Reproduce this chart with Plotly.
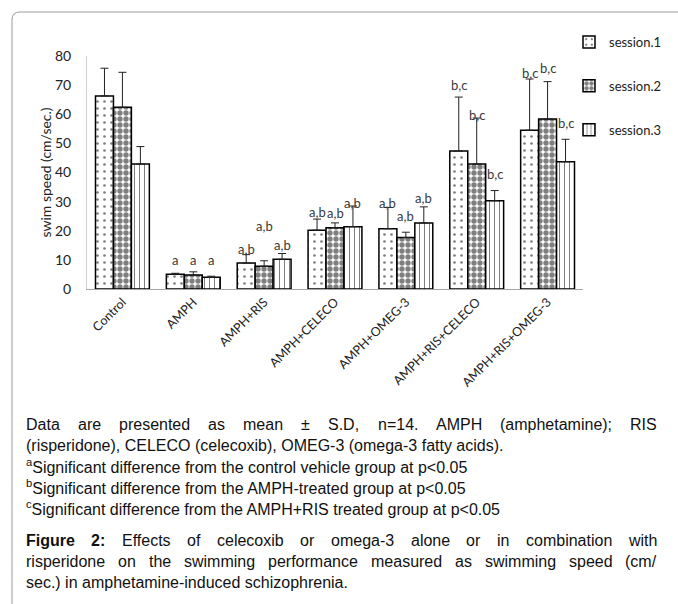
import plotly.graph_objects as go

# ---------------- data ----------------
categories = ["Control", "AMPH", "AMPH+RIS", "AMPH+CELECO", "AMPH+OMEG-3",
              "AMPH+RIS+CELECO", "AMPH+RIS+OMEG-3"]
session_names = ["session.1", "session.2", "session.3"]

session1_mean = [66.3, 5.1, 8.9, 20.2, 20.7, 47.4, 54.5]
session1_sd = [9.5, 0.3, 2.9, 3.8, 7.3, 18.5, 17.6]
session2_mean = [62.4, 4.8, 7.8, 21.0, 17.7, 42.9, 58.4]
session2_sd = [12.0, 1.1, 1.9, 1.7, 1.8, 15.8, 12.8]
session3_mean = [42.9, 4.0, 10.2, 21.4, 22.7, 30.3, 43.7]
session3_sd = [6.0, 0.4, 2.0, 7.1, 5.5, 3.5, 7.7]

session1_sig = ["", "a", "a,b", "a,b", "a,b", "b,c", "b,c"]
session2_sig = ["", "a", "a,b", "a,b", "a,b", "b,c", "b,c"]
session3_sig = ["", "a", "a,b", "a,b", "a,b", "b,c", "b,c"]

y_ticks = [0, 10, 20, 30, 40, 50, 60, 70, 80]
y_title = "swim speed (cm/sec.)"

note_lines = [
    "Data are presented as mean ± S.D, n=14. AMPH (amphetamine); RIS",
    "(risperidone), CELECO (celecoxib), OMEG-3 (omega-3 fatty acids).",
    "<sup>a</sup>Significant difference from the control vehicle group at p<0.05",
    "<sup>b</sup>Significant difference from the AMPH-treated group at p<0.05",
    "<sup>c</sup>Significant difference from the AMPH+RIS treated group at p<0.05",
]
caption_lines = [
    "<b>Figure</b> <b>2:</b> Effects of celecoxib or omega-3 alone or in combination with",
    "risperidone on the swimming performance measured as swimming speed (cm/",
    "sec.) in amphetamine-induced schizophrenia.",
]

# ---------------- layout geometry (pixels) ----------------
W, H = 678, 604
L, R, T, B = 87, 95, 56, 315
PW = W - L - R
PH = H - T - B


def px(x):
    return (x - L) / PW


def py(y):
    return (H - B - y) / PH


font_chart = "Lato, 'Open Sans', sans-serif"
font_text = "'Liberation Sans', Arial, sans-serif"
TEXT_SIZE = 16

# Arial / Liberation Sans advance widths (1/1000 em) for justification
_reg = {' ': 278, '(': 333, ')': 333, '+': 584, ',': 278, '-': 333, '.': 278,
        '/': 278, ':': 278, ';': 278, '<': 584, '=': 584, '±': 584,
        'A': 667, 'B': 667, 'C': 722, 'D': 722, 'E': 667, 'F': 611, 'G': 778,
        'H': 722, 'I': 278, 'J': 500, 'K': 667, 'L': 556, 'M': 833, 'N': 722,
        'O': 778, 'P': 667, 'Q': 778, 'R': 722, 'S': 667, 'T': 611, 'U': 722,
        'V': 667, 'W': 944, 'X': 667, 'Y': 667, 'Z': 611,
        'a': 556, 'b': 556, 'c': 500, 'd': 556, 'e': 556, 'f': 278, 'g': 556,
        'h': 556, 'i': 222, 'j': 222, 'k': 500, 'l': 222, 'm': 833, 'n': 556,
        'o': 556, 'p': 556, 'q': 556, 'r': 333, 's': 500, 't': 278, 'u': 556,
        'v': 500, 'w': 722, 'x': 500, 'y': 500, 'z': 500}
_bold = {'F': 611, 'i': 278, 'g': 611, 'u': 611, 'r': 389, 'e': 556, '2': 556,
         ':': 333}


def word_width(w, size):
    bold = w.startswith("<b>")
    s = w.replace("<b>", "").replace("</b>", "")
    tot = 0
    for ch in s:
        if ch.isdigit() and not bold:
            tot += 556
        elif bold:
            tot += _bold.get(ch, 600)
        else:
            tot += _reg.get(ch, 556)
    return tot * size / 1000.0


def text_ann(text, x, y, anchor="left"):
    return dict(x=px(x), y=py(y), xref="paper", yref="paper", text=text,
                showarrow=False, xanchor=anchor, yanchor="middle",
                borderpad=0, borderwidth=0,
                font=dict(family=font_text, size=TEXT_SIZE, color="#111"))


def justified(line, x_left, x_right, y):
    words = line.split(" ")
    widths = [word_width(w, TEXT_SIZE) for w in words]
    gap = (x_right - x_left - sum(widths)) / (len(words) - 1)
    out, xx = [], x_left
    for k, (w, wd) in enumerate(zip(words, widths)):
        if k == len(words) - 1:
            out.append(text_ann(w, x_right, y, "right"))
        else:
            out.append(text_ann(w, xx, y))
        xx += wd + gap
    return out


means = [session1_mean, session2_mean, session3_mean]
sds = [session1_sd, session2_sd, session3_sd]
sigs = [session1_sig, session2_sig, session3_sig]
patterns = [
    dict(shape=".", fgcolor="black", bgcolor="white", size=7, solidity=0.12),
    dict(shape=".", fgcolor="black", bgcolor="white", size=6, solidity=0.62),
    dict(shape="|", fgcolor="black", bgcolor="white", size=5, solidity=0.2),
]

fig = go.Figure()
for i in range(3):
    fig.add_trace(go.Bar(
        name=session_names[i],
        x=categories,
        y=means[i],
        marker=dict(color="white", pattern=patterns[i],
                    line=dict(color="black", width=1.5)),
        error_y=dict(type="data", symmetric=False, array=sds[i],
                     arrayminus=[0] * len(categories),
                     color="#222", thickness=1, width=4),
        legendgroup=session_names[i],
        hoverinfo="skip",
    ))

# significance label heights (nudged like the source to avoid error bars)
label_y = [
    [None, 10.0, 13.7, 26.5, 29.6, 70.0, 74.2],
    [None, 10.0, 21.5, 26.2, 25.1, 59.7, 75.9],
    [None, 10.0, 15.2, 29.4, 31.1, 39.4, 57.0],
]
annotations = []
offsets = [-0.76 / 3, 0, 0.76 / 3]
for i in range(3):
    for j, cat in enumerate(categories):
        if sigs[i][j]:
            annotations.append(dict(
                x=j + offsets[i], y=label_y[i][j], xref="x", yref="y",
                text=sigs[i][j], showarrow=False,
                font=dict(family=font_chart, size=13, color="#3a3a3a"),
                xanchor="center", yanchor="middle"))

# notes and figure caption below the chart
note_y = [424, 445, 466, 487, 508]
cap_y = [540, 561, 582]
annotations += justified(note_lines[0], 26, 657, note_y[0])
for t, yy in zip(note_lines[1:], note_y[1:]):
    annotations.append(text_ann(t, 26, yy))
annotations += justified(caption_lines[0], 26, 657, cap_y[0])
annotations += justified(caption_lines[1], 26, 657, cap_y[1])
annotations.append(text_ann(caption_lines[2], 26, cap_y[2]))

# outer frame (rounded top-left corner)
x0, y0, r = 12, 12, 8
frame_path = (f"M {px(x0)},{py(H + 2)} L {px(x0)},{py(y0 + r)} "
              f"Q {px(x0)},{py(y0)} {px(x0 + r)},{py(y0)} L {px(W + 2)},{py(y0)}")

fig.update_layout(
    width=W, height=H,
    margin=dict(l=L, r=R, t=T, b=B, autoexpand=False),
    paper_bgcolor="white", plot_bgcolor="white",
    barmode="group", bargap=0.24, bargroupgap=0,
    showlegend=True,
    legend=dict(x=px(569), y=py(27), xanchor="left", yanchor="top",
                font=dict(family=font_chart, size=13, color="#222"),
                traceorder="grouped", tracegroupgap=24,
                bgcolor="rgba(0,0,0,0)"),
    xaxis=dict(showline=True, linecolor="#a6a6a6", linewidth=1,
               ticks="", tickangle=-45, automargin=False,
               tickfont=dict(family=font_chart, size=12.5, color="#222"),
               showgrid=False, zeroline=False),
    yaxis=dict(range=[0, 80], tickvals=y_ticks, showline=True,
               linecolor="#d0d0d0", linewidth=1, ticks="", automargin=False,
               ticklabelstandoff=12,
               tickfont=dict(family=font_chart, size=14, color="#222"),
               showgrid=False, zeroline=False,
               title=dict(text=y_title, standoff=0,
                          font=dict(family=font_chart, size=14, color="#222"))),
    annotations=annotations,
    shapes=[dict(type="path", path=frame_path, xref="paper", yref="paper",
                 line=dict(color="#9a9a9a", width=1))],
)

fig.write_html("out.html")
